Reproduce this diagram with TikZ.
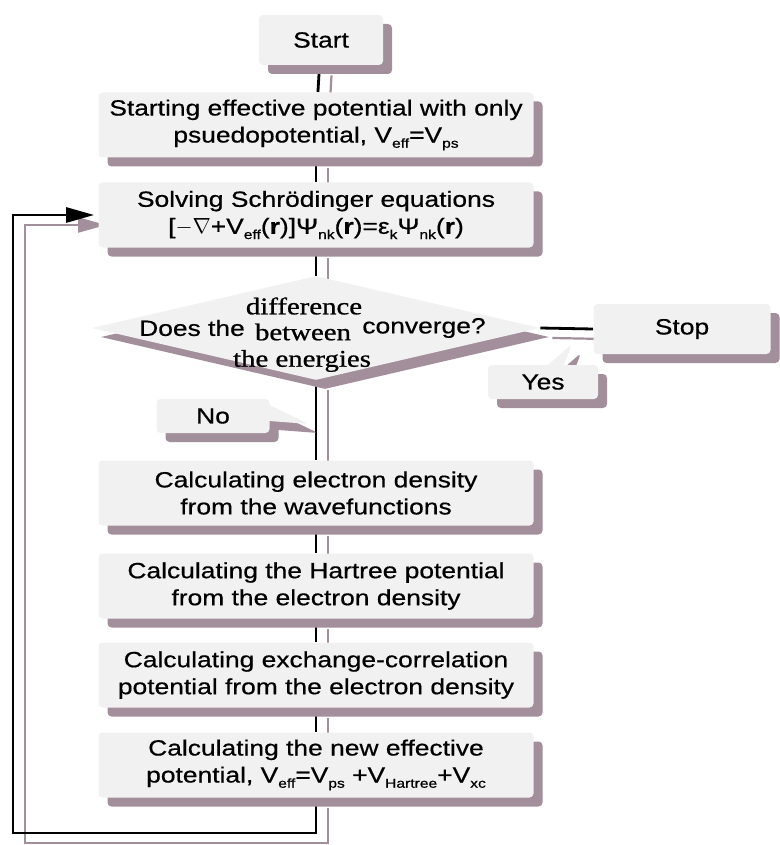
\documentclass[tikz,border=0pt]{standalone}
\usepackage{fontspec}
\setmainfont[FakeStretch=1.2,FakeBold=0.6]{Liberation Sans}
\newfontfamily\timesfont[FakeStretch=1.2,FakeBold=0.8]{Liberation Serif}
\usetikzlibrary{shapes.geometric,shapes.callouts,shadows,backgrounds,arrows.meta}
\definecolor{shadecol}{RGB}{163,143,155}
\definecolor{boxcol}{RGB}{242,241,242}
\newcommand\lowsub[1]{\raisebox{-0.45ex}{\fontsize{6.5}{6.5}\selectfont #1}}
\tikzset{
	boxshadow/.style={drop shadow={shadow xshift=4.5pt,shadow yshift=-4.5pt,fill=shadecol,opacity=1}},
	procbox/.style={rectangle,rounded corners=2pt,fill=boxcol,boxshadow,
		text width=214pt,align=center,minimum width=217.5pt,minimum height=32.5pt,
		inner sep=0pt,font=\fontsize{11}{13.5}\selectfont},
	termbox/.style={procbox,text width=,minimum height=25pt},
	lbl/.style={rectangle callout,rounded corners=2pt,fill=boxcol,boxshadow,
		minimum height=17pt,inner sep=0pt,callout pointer width=8pt,
		font=\fontsize{11}{13.5}\selectfont},
	link/.style={line width=1.4pt,
		preaction={draw=shadecol,line width=1.1pt,transform canvas={shift={(6pt,-5pt)}}}}
}
\begin{document}
\begin{tikzpicture}[x=0.5pt,y=-0.5pt]
	\useasboundingbox (0,0) rectangle (780,845);

	\node[termbox,minimum width=62pt] (start) at (321,40) {Start};
	\node[procbox] (init) at (316,125) {Starting effective potential with only\\ psuedopotential, V\lowsub{eff}=V\lowsub{ps}};
	\node[procbox] (solve) at (316,215) {Solving Schrödinger equations\\{}[$-\nabla$+V\lowsub{eff}(\textbf{r})]Ψ\lowsub{nk}(\textbf{r})=ε\lowsub{k}Ψ\lowsub{nk}(\textbf{r})};

	% decision
	\node[diamond,fill=boxcol,boxshadow,minimum width=224pt,minimum height=52pt,inner sep=0pt] (test) at (316,328) {};
	\node[font=\fontsize{11}{13.5}\selectfont] (qdoes) at (192,328) {Does the};
	\node[font=\timesfont\fontsize{12}{13}\selectfont] (qdiff) at (304,306) {difference};
	\node[font=\timesfont\fontsize{12}{13}\selectfont] (qbetw) at (303,332) {between};
	\node[font=\fontsize{11}{13.5}\selectfont] (qconv) at (424,328) {converge?};
	\node[font=\timesfont\fontsize{12}{13}\selectfont] (qener) at (302,361) {the energies};

	\node[termbox,minimum width=88.5pt] (stop) at (682,329) {Stop};
	\node[lbl,minimum width=55pt,callout absolute pointer={(572,344)}] (yes) at (543,382) {Yes};
	\node[lbl,minimum width=56.5pt,callout absolute pointer={(309,424)}] (no) at (213,416) {No};

	\node[procbox] (dens) at (316,493) {Calculating electron density\\ from the wavefunctions};
	\node[procbox] (hart) at (316,586) {Calculating the Hartree potential\\ from the electron density};
	\node[procbox] (xc) at (316,675) {Calculating exchange-correlation\\ potential from the electron density};
	\node[procbox] (veff) at (316,765) {Calculating the new effective\\ potential, V\lowsub{eff}=V\lowsub{ps} +V\lowsub{Hartree}+V\lowsub{xc}};

	\coordinate (loopfoot) at (13,833);

	\begin{scope}[on background layer]
		\foreach \a/\b in {start/init,init/solve,solve/test,test/dens,dens/hart,hart/xc,xc/veff}
			\draw[link] (\a) -- (\b);
		\draw[link] (test.east) -- (stop.west);
		\draw[link,-{Triangle[length=14pt,width=7.5pt]},shorten >=2pt] (veff.south) |- (loopfoot) |- (solve.west);
	\end{scope}
\end{tikzpicture}
\end{document}
